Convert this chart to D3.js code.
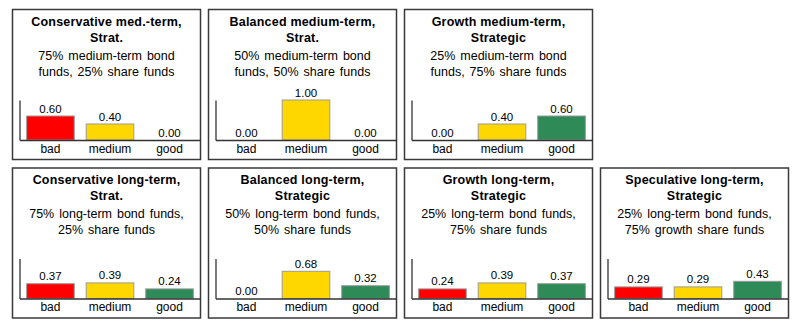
<!DOCTYPE html>
<html>
<head>
<meta charset="utf-8">
<script src="https://cdn.jsdelivr.net/npm/d3@7"></script>
<style>
  body { margin: 0; background: #fff; }
  svg text { font-family: "Liberation Sans", Arial, sans-serif; fill: #000; }
</style>
</head>
<body>
<div id="chart"></div>
<script>
// data
const categories = ["bad", "medium", "good"];
const titles = [
  ["Conservative med.-term,", "Strat."],
  ["Balanced medium-term,", "Strat."],
  ["Growth medium-term,", "Strategic"],
  ["Conservative long-term,", "Strat."],
  ["Balanced long-term,", "Strategic"],
  ["Growth long-term,", "Strategic"],
  ["Speculative long-term,", "Strategic"]
];
const subtitles = [
  ["75% medium-term bond", "funds, 25% share funds"],
  ["50% medium-term bond", "funds, 50% share funds"],
  ["25% medium-term bond", "funds, 75% share funds"],
  ["75% long-term bond funds,", "25% share funds"],
  ["50% long-term bond funds,", "50% share funds"],
  ["25% long-term bond funds,", "75% share funds"],
  ["25% long-term bond funds,", "75% growth share funds"]
];
const values = [
  [0.60, 0.40, 0.00],
  [0.00, 1.00, 0.00],
  [0.00, 0.40, 0.60],
  [0.37, 0.39, 0.24],
  [0.00, 0.68, 0.32],
  [0.24, 0.39, 0.37],
  [0.29, 0.29, 0.43]
];
const colors = ["#ff0000", "#ffd700", "#2e8b57"];

const W = 808, H = 325;
const panelW = 188, panelH = 150;
// grid slots of each panel (row, col)
const slots = [[0,0],[0,1],[0,2],[1,0],[1,1],[1,2],[1,3]];

const svg = d3.select("#chart").append("svg")
  .attr("width", W).attr("height", H);

const x = d3.scaleBand().domain(categories).range([7, panelW]).paddingInner(0.2).paddingOuter(0.12);
const y = d3.scaleLinear().domain([0, 1]).range([130.5, 90.5]);
const color = d3.scaleOrdinal().domain(categories).range(colors);

titles.forEach((t, i) => {
  const [row, col] = slots[i];
  const g = svg.append("g")
    .attr("transform", `translate(${12.5 + col*196},${9.5 + row*158.5})`);

  g.append("rect")
    .attr("width", panelW).attr("height", panelH)
    .attr("fill", "#fff").attr("stroke", "#3a3a3a").attr("stroke-width", 1.5);

  // title + subtitle
  t.forEach((line, k) => {
    g.append("text").attr("x", panelW/2).attr("y", 16 + k*16)
      .attr("text-anchor", "middle").style("font-size", "12.5px").style("font-weight", "bold")
      .style("letter-spacing", "0.2px")
      .text(line);
  });
  subtitles[i].forEach((line, k) => {
    g.append("text").attr("x", panelW/2).attr("y", 50 + k*16)
      .attr("text-anchor", "middle").style("font-size", "12.5px")
      .style("word-spacing", "1.5px")
      .text(line);
  });

  const d = categories.map((c, j) => ({cat: c, v: values[i][j]}));

  g.selectAll(".bar").data(d).join("rect")
    .attr("class", "bar")
    .attr("x", e => x(e.cat))
    .attr("y", e => y(e.v))
    .attr("width", x.bandwidth())
    .attr("height", e => y(0) - y(e.v))
    .attr("fill", e => color(e.cat))
    .attr("stroke", "#9a9a9a").attr("stroke-width", 1)
    .style("display", e => e.v > 0 ? null : "none");

  g.selectAll(".val").data(d).join("text")
    .attr("class", "val")
    .attr("x", e => x(e.cat) + x.bandwidth()/2)
    .attr("y", e => y(e.v) - 3.5)
    .attr("text-anchor", "middle").style("font-size", "11.5px")
    .text(e => e.v.toFixed(2));

  // axes: plain lines, no ticks
  const ya = g.append("g").attr("transform", "translate(7,0)")
    .call(d3.axisLeft(y).ticks(0).tickSizeOuter(0));
  ya.select(".domain").attr("stroke", "#333").attr("stroke-width", 1.3);

  const xa = g.append("g").attr("transform", `translate(0,${y(0)})`)
    .call(d3.axisBottom(x).tickSize(0).tickPadding(4));
  xa.select(".domain").attr("stroke", "#333").attr("stroke-width", 1.3);
  xa.selectAll("text").style("font-size", "12px").attr("font-family", null);
});
</script>
</body>
</html>
